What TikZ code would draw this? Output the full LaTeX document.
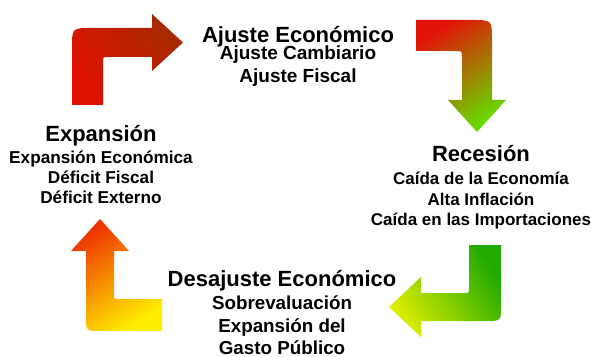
\documentclass[tikz,border=0pt]{standalone}
\usepackage{fontspec}
\setmainfont{Liberation Sans}
\usetikzlibrary{positioning}
\definecolor{redhot}{HTML}{E01200}
\definecolor{reddark}{HTML}{A52A00}
\definecolor{redleft}{HTML}{E21408}
\definecolor{greenlight}{HTML}{66DD00}
\definecolor{greendeep}{HTML}{22AA00}
\definecolor{yellowgreen}{HTML}{DDEE00}
\definecolor{orangered}{HTML}{EE3300}
\definecolor{yellowhot}{HTML}{FFEE00}

\begin{document}
\begin{tikzpicture}[x=1pt,y=1pt,
    heading/.style={anchor=base,inner sep=0pt,font=\bfseries\fontsize{22}{26}\selectfont},
    detail/.style 2 args={anchor=base,inner sep=0pt,align=center,font=\bfseries\fontsize{#1}{#2}\selectfont}]
    \useasboundingbox (0,0) rectangle (593,356);

    \shade[top color=reddark,bottom color=redhot,shading angle=-57]
        (72,251) -- (72,308) .. controls (72,328) .. (92,328) -- (152,328) -- (152,342)
        -- (183,313.5) -- (152,285) -- (152,299) -- (108,299) .. controls (103,299) .. (103,294)
        -- (103,251) -- cycle;
    \shade[top color=redleft,bottom color=greenlight,shading angle=33]
        (416,336) -- (472,336) .. controls (492,336) .. (492,316) -- (492,256) -- (506,256)
        -- (477,224) -- (448,256) -- (462,256) -- (462,298) .. controls (462,305) .. (455,305)
        -- (416,305) -- cycle;
    \shade[top color=greendeep,bottom color=yellowgreen,shading angle=-57]
        (469,111) -- (501,111) -- (501,50) .. controls (501,35) .. (486,35) -- (421,35)
        -- (421,19) -- (389,49) -- (421,79) -- (421,63) -- (464,63) .. controls (469,63) .. (469,68)
        -- cycle;
    \shade[top color=orangered,bottom color=yellowhot,shading angle=33]
        (100,137) -- (129,105) -- (114,105) -- (114,62) .. controls (114,57) .. (119,57)
        -- (162,57) -- (162,25) -- (101,25) .. controls (86,25) .. (86,40) -- (86,105)
        -- (71,105) -- cycle;

    \node[heading] (ajuste) at (298,313.7) {Ajuste Económico};
    \node[detail={19}{22.7}] (ajusteD) at (298,273.3) {Ajuste Cambiario\\Ajuste Fiscal};
    \node[heading] (recesion) at (481,194.3) {Recesión};
    \node[detail={17}{20}] (recesionD) at (481,131) {Caída de la Economía\\Alta Inflación\\Caída en las Importaciones};
    \node[heading] (desajuste) at (282,69.3) {Desajuste Económico};
    \node[detail={18.8}{22.3}] (desajusteD) at (282,1.7) {Sobrevaluación\\Expansión del\\Gasto Público};
    \node[heading] (expansion) at (101,214.3) {Expansión};
    \node[detail={17.2}{20.4}] (expansionD) at (101,152) {Expansión Económica\\Déficit Fiscal\\Déficit Externo};
\end{tikzpicture}
\end{document}
